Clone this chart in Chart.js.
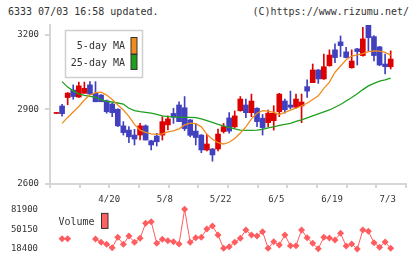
<!DOCTYPE html>
<html lang="en">
<head>
  <meta charset="UTF-8">
  <title>6333 chart</title>
  <style>
    body { margin: 0; background: #fff; }
    #wrap { position: relative; width: 420px; height: 259px; overflow: hidden; }
    .head {
      position: absolute;
      top: 6px;
      font: 10px "DejaVu Sans Mono", monospace;
      color: #333;
      line-height: 12px;
      white-space: nowrap;
    }
    #stamp { left: 8px; }
    #copy { right: 11px; }
    #price-chart { position: absolute; left: 0; top: 0; }
    #volume-chart { position: absolute; left: 0; top: 200px; }
  </style>
</head>
<body>
  <div id="wrap">
    <div class="head" id="stamp">6333 07/03 16:58 updated.</div>
    <div class="head" id="copy">(C)https://www.rizumu.net/</div>
    <canvas id="price-chart" width="420" height="210"></canvas>
    <canvas id="volume-chart" width="420" height="59"></canvas>
  </div>

  <script src="https://cdn.jsdelivr.net/npm/chart.js"></script>
  <script>
    // daily prices, oldest first
    const openPrices  = [2884, 2914, 2948, 2978, 2950, 2965, 2999, 2965, 2958, 2935, 2922, 2901, 2834, 2817, 2797, 2797, 2834, 2774, 2793, 2797, 2838, 2884, 2918, 2907, 2858, 2813, 2797, 2737, 2741, 2741, 2811, 2866, 2830, 2895, 2918, 2887, 2905, 2865, 2847, 2855, 2891, 2934, 2918, 2909, 2914, 2992, 3008, 3059, 3023, 3076, 3140, 3172, 3132, 3068, 3144, 3117, 3245, 3193, 3152, 3083, 3072];
    const highPrices  = [2887, 2921, 2968, 2999, 3010, 3010, 3012, 3012, 2960, 2938, 2925, 2903, 2851, 2831, 2820, 2844, 2838, 2776, 2804, 2871, 2874, 2905, 2931, 2952, 2860, 2844, 2799, 2800, 2743, 2821, 2844, 2887, 2894, 2952, 2942, 2962, 2907, 2880, 2898, 2915, 2965, 2942, 2974, 2962, 2962, 3019, 3083, 3061, 3123, 3140, 3164, 3196, 3150, 3140, 3146, 3231, 3250, 3197, 3154, 3123, 3136];
    const lowPrices   = [2884, 2873, 2919, 2941, 2948, 2965, 2960, 2931, 2931, 2885, 2871, 2831, 2797, 2766, 2757, 2777, 2777, 2737, 2753, 2777, 2818, 2844, 2851, 2815, 2790, 2757, 2726, 2733, 2692, 2733, 2805, 2805, 2825, 2893, 2867, 2871, 2831, 2797, 2831, 2817, 2871, 2885, 2902, 2905, 2847, 2948, 3008, 3005, 3021, 3074, 3088, 3113, 3107, 3066, 3079, 3115, 3136, 3095, 3076, 3043, 3063];
    const closePrices = [2887, 2883, 2966, 2952, 2995, 2985, 2962, 2931, 2931, 2891, 2887, 2834, 2807, 2790, 2781, 2834, 2777, 2757, 2770, 2851, 2862, 2869, 2851, 2823, 2796, 2787, 2737, 2761, 2717, 2801, 2831, 2813, 2874, 2942, 2887, 2934, 2851, 2827, 2885, 2885, 2962, 2899, 2909, 2942, 2930, 2974, 3059, 3023, 3072, 3119, 3109, 3157, 3109, 3095, 3133, 3184, 3189, 3117, 3079, 3072, 3103];

    const ma5 = [null, 2844, 2868, 2890, 2912, 2938, 2958, 2968, 2970, 2958, 2940, 2918, 2898, 2872, 2840, 2817, 2808, 2802, 2800, 2802, 2810, 2814, 2822, 2838, 2845, 2843, 2830, 2800, 2780, 2766, 2761, 2768, 2783, 2805, 2830, 2862, 2885, 2895, 2893, 2888, 2880, 2888, 2897, 2905, 2915, 2925, 2940, 2955, 2985, 3010, 3050, 3075, 3100, 3115, 3120, 3125, 3133, 3136, 3135, 3130, 3119];
    const ma25 = [null, 3012, 2990, 2975, 2963, 2957, 2953, 2950, 2940, 2933, 2930, 2926, 2922, 2905, 2895, 2891, 2888, 2885, 2880, 2874, 2871, 2870, 2869, 2868, 2868, 2867, 2862, 2855, 2848, 2840, 2834, 2828, 2822, 2817, 2816, 2816, 2817, 2820, 2826, 2830, 2836, 2840, 2844, 2852, 2858, 2866, 2874, 2882, 2890, 2898, 2909, 2920, 2934, 2948, 2963, 2980, 2995, 3005, 3014, 3019, 3026];

    const volumes = [null, 34900, 34900, null, null, null, null, 34400, 29100, 25900, 20500, 37100, 25900, 39200, 29100, 35500, 59500, 62100, 27500, 33900, 31700, 30100, 26400, 82000, 29100, 36500, 37100, 50400, 55200, 40800, 19500, 22100, 29100, 35500, 48800, 40800, 39200, 46100, 19500, 30100, 24800, 40800, 23700, 23700, 48800, 36500, 27500, 19000, 37100, 36000, 32800, 43500, 23200, 26400, 18400, 48800, 46700, 28500, 21100, 29600, 19500];

    const dateTickIndex = [10, 20, 30, 40, 50, 60];
    const dateTickLabels = ['4/20', '5/8', '5/22', '6/5', '6/19', '7/3'];
    const priceTicks = [2600, 2900, 3200];
    const volumeTicks = [18400, 50150, 81900];

    const UP = '#dd0000';
    const DOWN = '#4141bf';
    const ORANGE = '#f08c1e';
    const GREEN = '#1ea01e';
    const VOL = '#ff5c5f';
    const AXIS = '#d6d6d6';
    const MONO = '"DejaVu Sans Mono", monospace';

    const X_MIN = -1.17;
    const X_MAX = 62.75;

    const bodies = openPrices.map((o, i) => ({ x: i, y: [o, closePrices[i]] }));
    const wicks = lowPrices.map((l, i) => ({ x: i, y: [l, highPrices[i]] }));
    const candleColors = openPrices.map((o, i) => closePrices[i] >= o ? UP : DOWN);

    const priceLegend = {
      id: 'priceLegend',
      afterDatasetsDraw(chart) {
        const ctx = chart.ctx;
        const a = chart.chartArea;
        const x = a.left + 15.5, y = a.top + 5.5;
        ctx.save();
        ctx.fillStyle = '#fff';
        ctx.fillRect(x, y, 77, 47);
        ctx.strokeStyle = '#cfcfcf';
        ctx.lineWidth = 1.5;
        ctx.strokeRect(x, y, 77, 47);
        ctx.font = '10px ' + MONO;
        ctx.fillStyle = '#333';
        ctx.textAlign = 'right';
        ctx.textBaseline = 'middle';
        ctx.fillText('5-day MA', x + 59.5, y + 15.5);
        ctx.fillText('25-day MA', x + 59.5, y + 32.5);
        ctx.lineWidth = 1;
        ctx.strokeStyle = '#333';
        ctx.fillStyle = ORANGE;
        ctx.fillRect(x + 65.5, y + 7, 6, 16.5);
        ctx.strokeRect(x + 65.5, y + 7, 6, 16.5);
        ctx.fillStyle = GREEN;
        ctx.fillRect(x + 65.5, y + 24, 6, 15);
        ctx.strokeRect(x + 65.5, y + 24, 6, 15);
        ctx.restore();
      }
    };

    const volumeLegend = {
      id: 'volumeLegend',
      afterDatasetsDraw(chart) {
        const ctx = chart.ctx;
        const a = chart.chartArea;
        ctx.save();
        ctx.font = '10px ' + MONO;
        ctx.fillStyle = '#333';
        ctx.textAlign = 'right';
        ctx.textBaseline = 'middle';
        ctx.fillText('Volume', a.left + 44.5, a.top + 13);
        ctx.fillStyle = '#ff6262';
        ctx.strokeStyle = '#333';
        ctx.lineWidth = 1;
        ctx.fillRect(a.left + 51.5, a.top + 4, 6.5, 15);
        ctx.strokeRect(a.left + 51.5, a.top + 4, 6.5, 15);
        ctx.restore();
      }
    };

    new Chart(document.getElementById('price-chart'), {
      type: 'bar',
      data: {
        datasets: [
          {
            type: 'line',
            xAxisID: 'x',
            data: ma5.map((v, i) => ({ x: i, y: v })),
            borderColor: ORANGE,
            borderWidth: 1.3,
            pointRadius: 0,
            spanGaps: false
          },
          {
            type: 'line',
            xAxisID: 'x',
            data: ma25.map((v, i) => ({ x: i, y: v })),
            borderColor: GREEN,
            borderWidth: 1.3,
            pointRadius: 0,
            spanGaps: false
          },
          {
            xAxisID: 'x',
            data: bodies,
            backgroundColor: candleColors,
            barThickness: 5,
            minBarLength: 1,
            grouped: false,
            borderWidth: 0
          },
          {
            xAxisID: 'x',
            data: wicks,
            backgroundColor: candleColors,
            barThickness: 1,
            grouped: false,
            borderWidth: 0
          }
        ]
      },
      options: {
        responsive: false,
        animation: false,
        events: [],
        layout: { padding: { top: 25, right: 14, left: 0, bottom: 0 } },
        plugins: { legend: { display: false }, tooltip: { enabled: false } },
        scales: {
          x: {
            type: 'linear',
            position: 'bottom',
            weight: 1,
            offset: false,
            min: X_MIN,
            max: X_MAX,
            afterBuildTicks(scale) { scale.ticks = dateTickIndex.map(v => ({ value: v })); },
            ticks: {
              autoSkip: false,
              maxRotation: 0,
              padding: -2,
              labelOffset: -3,
              color: '#333',
              font: { family: MONO, size: 9 },
              callback: (v) => dateTickLabels[dateTickIndex.indexOf(v)]
            },
            grid: { display: false },
            border: { display: false },
            afterFit(scale) { scale.height = 22; }
          },
          xt: {
            type: 'linear',
            position: 'bottom',
            weight: 0,
            min: 0,
            max: 11,
            ticks: { display: false, stepSize: 1 },
            grid: { drawOnChartArea: false, tickLength: 4, color: AXIS, lineWidth: 2 },
            border: { color: AXIS, width: 2 },
            afterFit(scale) { scale.height = 4; }
          },
          y: {
            type: 'linear',
            min: 2600,
            max: 3240,
            afterBuildTicks(scale) { scale.ticks = priceTicks.map(v => ({ value: v })); },
            ticks: { padding: 6, color: '#333', font: { family: MONO, size: 9 }, callback: (v) => String(v) },
            grid: { drawOnChartArea: false, tickLength: 5, color: AXIS, lineWidth: 2 },
            border: { color: AXIS, width: 2 },
            afterFit(scale) { scale.width = 50; }
          }
        }
      },
      plugins: [priceLegend]
    });

    new Chart(document.getElementById('volume-chart'), {
      type: 'line',
      data: {
        datasets: [{
          data: volumes.map((v, i) => ({ x: i, y: v })),
          borderColor: VOL,
          backgroundColor: VOL,
          borderWidth: 1,
          pointStyle: 'rectRot',
          pointRadius: 3.5,
          pointBorderWidth: 0,
          spanGaps: false,
          clip: false
        }]
      },
      options: {
        responsive: false,
        animation: false,
        events: [],
        layout: { padding: { top: 9.3, right: 14, left: 0, bottom: 10 } },
        plugins: { legend: { display: false }, tooltip: { enabled: false } },
        scales: {
          x: { type: 'linear', display: false, min: X_MIN, max: X_MAX },
          y: {
            type: 'linear',
            min: 18400,
            max: 81900,
            afterBuildTicks(scale) { scale.ticks = volumeTicks.map(v => ({ value: v })); },
            ticks: { padding: 4, color: '#333', font: { family: MONO, size: 9 }, callback: (v) => String(v) },
            grid: { display: false },
            border: { display: false },
            afterFit(scale) { scale.width = 50; }
          }
        }
      },
      plugins: [volumeLegend]
    });
  </script>
</body>
</html>
